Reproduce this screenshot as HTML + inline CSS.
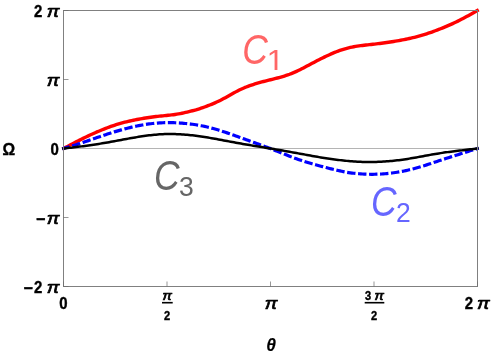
<!DOCTYPE html>
<html><head><meta charset="utf-8"><title>plot</title>
<style>
html,body{margin:0;padding:0;background:#fff;}
body{width:491px;height:360px;overflow:hidden;}
svg{display:block;will-change:transform;}
text{font-family:"Liberation Sans",sans-serif;}
.b{font-weight:bold;fill:#000;stroke:#000;stroke-width:0.4;stroke-linejoin:round;}
.bi{font-weight:normal;font-style:italic;fill:#000;stroke:#000;stroke-width:0.7;stroke-linejoin:round;}
.ci{font-style:italic;}
.bt{font-weight:bold;font-style:italic;fill:#000;stroke:#000;stroke-width:0.15;}
</style></head><body>
<svg width="491" height="360" viewBox="0 0 491 360">
<rect x="0" y="0" width="491" height="360" fill="#ffffff"/>
<!-- zero axis -->
<line x1="63.5" y1="148.5" x2="477.5" y2="148.5" stroke="#b4b4b4" stroke-width="1"/>
<!-- curves -->
<path d="M62.30,149.13 L64.04,148.22 L65.77,147.31 L67.51,146.40 L69.24,145.49 L70.98,144.58 L72.71,143.67 L74.45,142.77 L76.18,141.88 L77.92,140.99 L79.65,140.11 L81.39,139.24 L83.12,138.37 L84.86,137.52 L86.59,136.68 L88.33,135.86 L90.06,135.04 L91.80,134.24 L93.53,133.46 L95.27,132.69 L97.00,131.93 L98.74,131.19 L100.47,130.46 L102.21,129.75 L103.94,129.06 L105.68,128.38 L107.41,127.72 L109.15,127.08 L110.88,126.45 L112.62,125.85 L114.35,125.27 L116.09,124.70 L117.82,124.16 L119.56,123.64 L121.29,123.14 L123.03,122.67 L124.76,122.22 L126.50,121.78 L128.23,121.37 L129.97,120.97 L131.70,120.59 L133.44,120.23 L135.17,119.88 L136.91,119.54 L138.64,119.21 L140.38,118.90 L142.11,118.59 L143.85,118.29 L145.58,118.01 L147.32,117.73 L149.05,117.47 L150.79,117.22 L152.52,116.99 L154.26,116.76 L155.99,116.55 L157.73,116.35 L159.46,116.17 L161.20,115.99 L162.93,115.82 L164.67,115.65 L166.40,115.48 L168.14,115.31 L169.87,115.13 L171.61,114.93 L173.34,114.71 L175.08,114.46 L176.81,114.19 L178.55,113.89 L180.28,113.56 L182.02,113.21 L183.75,112.84 L185.49,112.45 L187.22,112.05 L188.96,111.63 L190.69,111.20 L192.43,110.76 L194.16,110.29 L195.90,109.81 L197.63,109.29 L199.37,108.76 L201.10,108.20 L202.84,107.61 L204.57,106.99 L206.31,106.35 L208.04,105.69 L209.78,105.01 L211.51,104.31 L213.25,103.58 L214.98,102.84 L216.72,102.06 L218.45,101.25 L220.19,100.41 L221.92,99.54 L223.66,98.62 L225.39,97.68 L227.13,96.71 L228.86,95.74 L230.60,94.75 L232.33,93.78 L234.07,92.81 L235.80,91.87 L237.54,90.96 L239.27,90.08 L241.01,89.24 L242.74,88.45 L244.48,87.70 L246.21,87.00 L247.95,86.33 L249.68,85.70 L251.42,85.10 L253.15,84.53 L254.89,83.98 L256.62,83.45 L258.36,82.94 L260.09,82.45 L261.83,81.97 L263.56,81.51 L265.30,81.06 L267.03,80.61 L268.77,80.18 L270.50,79.75 L272.23,79.32 L273.97,78.89 L275.70,78.46 L277.44,78.02 L279.17,77.56 L280.91,77.08 L282.64,76.58 L284.38,76.05 L286.11,75.49 L287.85,74.89 L289.58,74.26 L291.32,73.58 L293.05,72.87 L294.79,72.12 L296.52,71.34 L298.26,70.52 L299.99,69.67 L301.73,68.80 L303.46,67.91 L305.20,67.01 L306.93,66.09 L308.67,65.16 L310.40,64.24 L312.14,63.32 L313.87,62.40 L315.61,61.49 L317.34,60.59 L319.08,59.70 L320.81,58.82 L322.55,57.96 L324.28,57.11 L326.02,56.28 L327.75,55.47 L329.49,54.68 L331.22,53.91 L332.96,53.16 L334.69,52.44 L336.43,51.74 L338.16,51.08 L339.90,50.45 L341.63,49.85 L343.37,49.30 L345.10,48.77 L346.84,48.29 L348.57,47.85 L350.31,47.44 L352.04,47.07 L353.78,46.74 L355.51,46.44 L357.25,46.16 L358.98,45.91 L360.72,45.68 L362.45,45.46 L364.19,45.26 L365.92,45.06 L367.66,44.87 L369.39,44.68 L371.13,44.48 L372.86,44.28 L374.60,44.08 L376.33,43.87 L378.07,43.65 L379.80,43.44 L381.54,43.21 L383.27,42.99 L385.01,42.75 L386.74,42.51 L388.48,42.26 L390.21,42.01 L391.95,41.74 L393.68,41.46 L395.42,41.17 L397.15,40.88 L398.89,40.57 L400.62,40.25 L402.36,39.93 L404.09,39.59 L405.83,39.24 L407.56,38.88 L409.30,38.50 L411.03,38.11 L412.77,37.71 L414.50,37.29 L416.24,36.85 L417.97,36.39 L419.71,35.92 L421.44,35.42 L423.18,34.90 L424.91,34.36 L426.65,33.81 L428.38,33.23 L430.12,32.64 L431.85,32.03 L433.59,31.41 L435.32,30.77 L437.06,30.12 L438.79,29.45 L440.53,28.77 L442.26,28.08 L444.00,27.37 L445.73,26.64 L447.47,25.90 L449.20,25.15 L450.94,24.37 L452.67,23.58 L454.41,22.77 L456.14,21.95 L457.88,21.10 L459.61,20.24 L461.35,19.35 L463.08,18.45 L464.82,17.54 L466.55,16.61 L468.29,15.66 L470.02,14.71 L471.76,13.74 L473.49,12.77 L475.23,11.79 L476.96,10.80 L478.70,9.87" fill="none" stroke="#ff0000" stroke-width="3.4" stroke-linejoin="round" stroke-linecap="butt"/>
<path d="M62.30,148.94 L64.04,148.34 L65.77,147.83 L67.51,147.31 L69.24,146.79 L70.98,146.27 L72.71,145.74 L74.45,145.21 L76.18,144.67 L77.92,144.12 L79.65,143.56 L81.39,142.99 L83.12,142.41 L84.86,141.83 L86.59,141.23 L88.33,140.63 L90.06,140.03 L91.80,139.43 L93.53,138.82 L95.27,138.21 L97.00,137.61 L98.74,137.01 L100.47,136.41 L102.21,135.82 L103.94,135.23 L105.68,134.66 L107.41,134.09 L109.15,133.53 L110.88,132.97 L112.62,132.43 L114.35,131.89 L116.09,131.37 L117.82,130.85 L119.56,130.35 L121.29,129.85 L123.03,129.37 L124.76,128.91 L126.50,128.45 L128.23,128.01 L129.97,127.58 L131.70,127.17 L133.44,126.77 L135.17,126.39 L136.91,126.02 L138.64,125.67 L140.38,125.34 L142.11,125.03 L143.85,124.73 L145.58,124.45 L147.32,124.19 L149.05,123.95 L150.79,123.73 L152.52,123.53 L154.26,123.34 L155.99,123.18 L157.73,123.04 L159.46,122.92 L161.20,122.82 L162.93,122.74 L164.67,122.68 L166.40,122.65 L168.14,122.63 L169.87,122.63 L171.61,122.65 L173.34,122.69 L175.08,122.75 L176.81,122.83 L178.55,122.92 L180.28,123.03 L182.02,123.16 L183.75,123.31 L185.49,123.47 L187.22,123.64 L188.96,123.84 L190.69,124.05 L192.43,124.28 L194.16,124.52 L195.90,124.79 L197.63,125.07 L199.37,125.38 L201.10,125.70 L202.84,126.04 L204.57,126.41 L206.31,126.80 L208.04,127.20 L209.78,127.63 L211.51,128.09 L213.25,128.56 L214.98,129.04 L216.72,129.55 L218.45,130.07 L220.19,130.61 L221.92,131.16 L223.66,131.72 L225.39,132.30 L227.13,132.88 L228.86,133.48 L230.60,134.08 L232.33,134.69 L234.07,135.30 L235.80,135.92 L237.54,136.54 L239.27,137.16 L241.01,137.79 L242.74,138.42 L244.48,139.05 L246.21,139.68 L247.95,140.31 L249.68,140.94 L251.42,141.58 L253.15,142.21 L254.89,142.85 L256.62,143.48 L258.36,144.12 L260.09,144.75 L261.83,145.38 L263.56,146.01 L265.30,146.65 L267.03,147.29 L268.77,147.94 L270.50,148.60 L272.23,149.27 L273.97,149.95 L275.70,150.64 L277.44,151.34 L279.17,152.04 L280.91,152.74 L282.64,153.44 L284.38,154.14 L286.11,154.84 L287.85,155.52 L289.58,156.20 L291.32,156.87 L293.05,157.52 L294.79,158.16 L296.52,158.79 L298.26,159.41 L299.99,160.01 L301.73,160.60 L303.46,161.18 L305.20,161.74 L306.93,162.28 L308.67,162.82 L310.40,163.33 L312.14,163.83 L313.87,164.32 L315.61,164.80 L317.34,165.27 L319.08,165.73 L320.81,166.18 L322.55,166.63 L324.28,167.08 L326.02,167.53 L327.75,167.98 L329.49,168.43 L331.22,168.87 L332.96,169.31 L334.69,169.73 L336.43,170.15 L338.16,170.55 L339.90,170.93 L341.63,171.30 L343.37,171.65 L345.10,171.98 L346.84,172.28 L348.57,172.56 L350.31,172.81 L352.04,173.05 L353.78,173.26 L355.51,173.45 L357.25,173.62 L358.98,173.77 L360.72,173.90 L362.45,174.01 L364.19,174.10 L365.92,174.17 L367.66,174.23 L369.39,174.26 L371.13,174.28 L372.86,174.28 L374.60,174.26 L376.33,174.22 L378.07,174.16 L379.80,174.08 L381.54,173.99 L383.27,173.87 L385.01,173.74 L386.74,173.58 L388.48,173.41 L390.21,173.21 L391.95,173.00 L393.68,172.77 L395.42,172.52 L397.15,172.24 L398.89,171.95 L400.62,171.64 L402.36,171.31 L404.09,170.96 L405.83,170.59 L407.56,170.21 L409.30,169.80 L411.03,169.38 L412.77,168.94 L414.50,168.48 L416.24,168.01 L417.97,167.53 L419.71,167.02 L421.44,166.50 L423.18,165.97 L424.91,165.43 L426.65,164.88 L428.38,164.31 L430.12,163.74 L431.85,163.17 L433.59,162.59 L435.32,162.01 L437.06,161.43 L438.79,160.85 L440.53,160.27 L442.26,159.70 L444.00,159.13 L445.73,158.57 L447.47,158.01 L449.20,157.45 L450.94,156.89 L452.67,156.34 L454.41,155.78 L456.14,155.23 L457.88,154.68 L459.61,154.13 L461.35,153.58 L463.08,153.04 L464.82,152.49 L466.55,151.94 L468.29,151.40 L470.02,150.85 L471.76,150.31 L473.49,149.76 L475.23,149.21 L476.96,148.67 L478.70,148.06" fill="none" stroke="#0000ff" stroke-width="3.2" stroke-dasharray="8.4 2.6" stroke-dashoffset="0.72" stroke-linejoin="round"/>
<path d="M62.30,148.65 L64.04,148.44 L65.77,148.24 L67.51,148.04 L69.24,147.84 L70.98,147.64 L72.71,147.44 L74.45,147.23 L76.18,147.03 L77.92,146.82 L79.65,146.60 L81.39,146.38 L83.12,146.16 L84.86,145.93 L86.59,145.70 L88.33,145.46 L90.06,145.22 L91.80,144.97 L93.53,144.72 L95.27,144.46 L97.00,144.19 L98.74,143.92 L100.47,143.64 L102.21,143.35 L103.94,143.06 L105.68,142.76 L107.41,142.46 L109.15,142.15 L110.88,141.84 L112.62,141.52 L114.35,141.20 L116.09,140.88 L117.82,140.56 L119.56,140.24 L121.29,139.91 L123.03,139.59 L124.76,139.26 L126.50,138.94 L128.23,138.63 L129.97,138.31 L131.70,138.00 L133.44,137.70 L135.17,137.40 L136.91,137.11 L138.64,136.82 L140.38,136.55 L142.11,136.29 L143.85,136.03 L145.58,135.79 L147.32,135.56 L149.05,135.34 L150.79,135.14 L152.52,134.96 L154.26,134.78 L155.99,134.63 L157.73,134.49 L159.46,134.37 L161.20,134.26 L162.93,134.18 L164.67,134.11 L166.40,134.06 L168.14,134.03 L169.87,134.02 L171.61,134.03 L173.34,134.05 L175.08,134.09 L176.81,134.15 L178.55,134.22 L180.28,134.31 L182.02,134.42 L183.75,134.54 L185.49,134.67 L187.22,134.82 L188.96,134.98 L190.69,135.16 L192.43,135.35 L194.16,135.55 L195.90,135.77 L197.63,135.99 L199.37,136.23 L201.10,136.48 L202.84,136.74 L204.57,137.01 L206.31,137.28 L208.04,137.57 L209.78,137.86 L211.51,138.16 L213.25,138.47 L214.98,138.78 L216.72,139.10 L218.45,139.42 L220.19,139.74 L221.92,140.07 L223.66,140.40 L225.39,140.73 L227.13,141.05 L228.86,141.38 L230.60,141.71 L232.33,142.03 L234.07,142.35 L235.80,142.67 L237.54,142.98 L239.27,143.29 L241.01,143.60 L242.74,143.90 L244.48,144.20 L246.21,144.50 L247.95,144.80 L249.68,145.09 L251.42,145.38 L253.15,145.67 L254.89,145.95 L256.62,146.23 L258.36,146.52 L260.09,146.80 L261.83,147.08 L263.56,147.36 L265.30,147.65 L267.03,147.93 L268.77,148.21 L270.50,148.50 L272.23,148.79 L273.97,149.08 L275.70,149.37 L277.44,149.67 L279.17,149.97 L280.91,150.27 L282.64,150.57 L284.38,150.87 L286.11,151.18 L287.85,151.49 L289.58,151.80 L291.32,152.11 L293.05,152.42 L294.79,152.74 L296.52,153.05 L298.26,153.37 L299.99,153.69 L301.73,154.01 L303.46,154.32 L305.20,154.64 L306.93,154.96 L308.67,155.27 L310.40,155.59 L312.14,155.90 L313.87,156.21 L315.61,156.51 L317.34,156.81 L319.08,157.11 L320.81,157.40 L322.55,157.68 L324.28,157.96 L326.02,158.23 L327.75,158.49 L329.49,158.75 L331.22,159.00 L332.96,159.24 L334.69,159.48 L336.43,159.70 L338.16,159.92 L339.90,160.13 L341.63,160.33 L343.37,160.52 L345.10,160.70 L346.84,160.87 L348.57,161.03 L350.31,161.18 L352.04,161.31 L353.78,161.44 L355.51,161.55 L357.25,161.65 L358.98,161.74 L360.72,161.82 L362.45,161.88 L364.19,161.93 L365.92,161.97 L367.66,161.99 L369.39,162.01 L371.13,162.00 L372.86,161.99 L374.60,161.96 L376.33,161.91 L378.07,161.86 L379.80,161.78 L381.54,161.70 L383.27,161.60 L385.01,161.49 L386.74,161.36 L388.48,161.23 L390.21,161.08 L391.95,160.91 L393.68,160.74 L395.42,160.55 L397.15,160.35 L398.89,160.14 L400.62,159.91 L402.36,159.68 L404.09,159.43 L405.83,159.18 L407.56,158.91 L409.30,158.63 L411.03,158.34 L412.77,158.05 L414.50,157.74 L416.24,157.43 L417.97,157.12 L419.71,156.80 L421.44,156.48 L423.18,156.15 L424.91,155.83 L426.65,155.51 L428.38,155.19 L430.12,154.88 L431.85,154.57 L433.59,154.27 L435.32,153.97 L437.06,153.68 L438.79,153.40 L440.53,153.13 L442.26,152.87 L444.00,152.61 L445.73,152.36 L447.47,152.12 L449.20,151.89 L450.94,151.66 L452.67,151.43 L454.41,151.21 L456.14,150.99 L457.88,150.78 L459.61,150.57 L461.35,150.37 L463.08,150.16 L464.82,149.96 L466.55,149.75 L468.29,149.55 L470.02,149.35 L471.76,149.15 L473.49,148.96 L475.23,148.76 L476.96,148.56 L478.70,148.35" fill="none" stroke="#000000" stroke-width="2.5" stroke-linejoin="round" stroke-linecap="butt"/>
<!-- frame -->
<rect x="63.5" y="10.5" width="414" height="276" fill="none" stroke="#808080" stroke-width="1"/>
<!-- ticks -->
<g stroke="#6a6a6a" stroke-width="0.7">
<line x1="63.5" y1="79.5" x2="68.5" y2="79.5"/>
<line x1="63.5" y1="217.5" x2="68.5" y2="217.5"/>
<line x1="63.5" y1="10.5" x2="68.5" y2="10.5"/>
<line x1="63.5" y1="286.5" x2="68.5" y2="286.5"/>
<line x1="63.5" y1="286.5" x2="63.5" y2="281.5"/>
<line x1="167" y1="286.5" x2="167" y2="281.5"/>
<line x1="270.5" y1="286.5" x2="270.5" y2="281.5"/>
<line x1="374" y1="286.5" x2="374" y2="281.5"/>
<line x1="477.5" y1="286.5" x2="477.5" y2="281.5"/>
</g>
<text class="bi" transform="translate(46.8,16.8) scale(1.13,1)" font-size="16.8" text-anchor="start">π</text>
<text class="b" transform="translate(42.2,16.8) scale(0.88,1)" font-size="17" text-anchor="end">2</text>
<text class="bi" transform="translate(46.8,85.8) scale(1.13,1)" font-size="16.8" text-anchor="start">π</text>
<text class="bi" transform="translate(46.8,223.8) scale(1.13,1)" font-size="16.8" text-anchor="start">π</text>
<text class="bi" transform="translate(46.8,292.8) scale(1.13,1)" font-size="16.8" text-anchor="start">π</text>
<text class="b" transform="translate(42.2,292.8) scale(0.88,1)" font-size="17" text-anchor="end">2</text>
<text class="b" transform="translate(33.2,294.2) scale(0.95,1)" font-size="17" text-anchor="end">−</text>
<text class="b" transform="translate(45.6,225.20000000000002) scale(0.95,1)" font-size="17" text-anchor="end">−</text>
<text class="b" transform="translate(58.8,154.8) scale(0.88,1)" font-size="17" text-anchor="end">0</text>
<text class="b" transform="translate(63.5,309.3) scale(0.88,1)" font-size="17" text-anchor="middle">0</text>
<text class="bi" transform="translate(271.0,309.3) scale(1.13,1)" font-size="16.8" text-anchor="middle">π</text>
<text class="b" transform="translate(464.8,309.3) scale(0.88,1)" font-size="17" text-anchor="start">2</text>
<text class="bi" transform="translate(477.0,309.3) scale(1.13,1)" font-size="16.8" text-anchor="start">π</text>
<text class="bi" transform="translate(167.3,300) scale(1.13,1)" font-size="12.432" text-anchor="middle">π</text>
<rect x="162" y="301.9" width="10.699999999999989" height="1.6" fill="#000"/>
<text class="b" transform="translate(167.2,320.1) scale(0.88,1)" font-size="12.58" text-anchor="middle">2</text>
<text class="b" transform="translate(365,300) scale(0.88,1)" font-size="12.58" text-anchor="start">3</text>
<text class="bi" transform="translate(374.5,300) scale(1.13,1)" font-size="12.432" text-anchor="start">π</text>
<rect x="364.7" y="301.9" width="19.600000000000023" height="1.6" fill="#000"/>
<text class="b" transform="translate(374,320.1) scale(0.88,1)" font-size="12.58" text-anchor="middle">2</text>
<text class="b" transform="translate(2.5,155.2) scale(0.93,1)" font-size="17" text-anchor="start">Ω</text>
<text class="bt" transform="translate(266.2,351.0) scale(0.97,1)" font-size="18.0" text-anchor="start">θ</text>
<text class="ci" transform="translate(242.20000000000002,64.0) scale(0.825,1)" font-size="43.0" text-anchor="start" fill="#ff6666">C</text>
<path d="M515 0V1237L197 1010V1180L530 1409H696V0Z" fill="#ff6666" transform="translate(266.6,69.9) scale(0.015522,-0.014111)"/>
<text class="ci" transform="translate(371.0,215.8) scale(0.825,1)" font-size="43.0" text-anchor="start" fill="#6666ff">C</text>
<text class="" transform="translate(395.90000000000003,221.7) scale(0.93,1)" font-size="28.5" text-anchor="start" fill="#6666ff">2</text>
<text class="ci" transform="translate(154.00000000000003,189.70000000000002) scale(0.825,1)" font-size="43.0" text-anchor="start" fill="#666666">C</text>
<text class="" transform="translate(178.9,195.6) scale(0.93,1)" font-size="28.5" text-anchor="start" fill="#666666">3</text>
</svg>
</body></html>
